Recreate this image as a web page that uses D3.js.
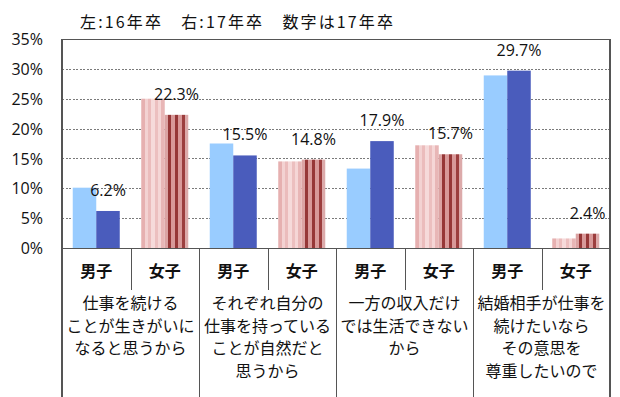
<!DOCTYPE html>
<html lang="ja">
<head>
<meta charset="UTF-8">
<title>Bar chart</title>
<script src="https://d3js.org/d3.v7.min.js"></script>
<style>
  html, body { margin: 0; padding: 0; background: #fff; }
  text { fill: #111; }
  .num { font-family: "Open Sans", "Liberation Sans", sans-serif; font-size: 16px; }
  .jp { font-family: "Noto Sans CJK JP", sans-serif; font-size: 16px; }
  .grid line { stroke: #7a7a7a; stroke-dasharray: 2,1.5; shape-rendering: crispEdges; }
  .frame { stroke: #555; stroke-width: 1.3; fill: none; shape-rendering: crispEdges; }
</style>
</head>
<body>
<script>
// data
var groups = [
  ["仕事を続ける", "ことが生きがいに", "なると思うから"],
  ["それぞれ自分の", "仕事を持っている", "ことが自然だと", "思うから"],
  ["一方の収入だけ", "では生活できない", "から"],
  ["結婚相手が仕事を", "続けたいなら", "その意思を", "尊重したいので"]
];
var sexes = ["男子", "女子"];
var years = ["16年卒", "17年卒"];
var v16 = [10.1, 25.0, 17.5, 14.5, 13.3, 17.2, 28.9, 1.6];
var v17 = [6.2, 22.3, 15.5, 14.8, 17.9, 15.7, 29.7, 2.4];
var yTicks = [0, 5, 10, 15, 20, 25, 30, 35];
var title = "左:16年卒　右:17年卒　数字は17年卒";

var W = 620, H = 397;
var plotL = 62, plotR = 610, plotT = 39, plotB = 248;

var cats = [];
groups.forEach(function(g, gi) {
  sexes.forEach(function(s, si) { cats.push({ key: gi + "-" + si, group: gi, sex: s, i: gi * 2 + si }); });
});

var svg = d3.select("body").append("svg").attr("width", W).attr("height", H);

var defs = svg.append("defs");
// striped fills for 女子 bars
function stripes(id, cols) {
  var g = defs.append("linearGradient").attr("id", id).attr("x1", 0).attr("x2", 1).attr("y1", 0).attr("y2", 0);
  var n = cols.length;
  cols.forEach(function(c, i) {
    g.append("stop").attr("offset", i / n).attr("stop-color", c);
    g.append("stop").attr("offset", (i + 1) / n).attr("stop-color", c);
  });
}
stripes("pinkLight", ["#e6b0b0", "#f3d2d2", "#ebbcbc", "#f6dada", "#ecbfbf", "#f5d6d6", "#e8b6b6"]);
stripes("pinkDark", ["#dba3a3", "#963737", "#d89999", "#963737", "#d89999", "#9c3e3e", "#dcaaaa"]);

var y = d3.scaleLinear().domain([0, 35]).range([plotB, plotT]);
var x = d3.scaleBand().domain(cats.map(function(d) { return d.key; })).range([plotL, plotR]);
var xi = d3.scaleBand().domain(years).range([0, x.bandwidth()]).paddingOuter(0.457);

// gridlines
svg.append("g").attr("class", "grid")
  .selectAll("line").data(yTicks.filter(function(t) { return t > 0 && t < 35; }))
  .join("line")
  .attr("x1", plotL).attr("x2", plotR)
  .attr("y1", function(d) { return Math.round(y(d)) + 0.5; })
  .attr("y2", function(d) { return Math.round(y(d)) + 0.5; });

// y axis labels
var yAxis = d3.axisLeft(y).tickValues(yTicks).tickSize(0).tickPadding(0)
  .tickFormat(function(d) { return d + "%"; });
var ya = svg.append("g").attr("transform", "translate(43,0)").call(yAxis);
ya.select(".domain").remove();
ya.selectAll("text").attr("class", "num").attr("fill", "#111").attr("dy", "0.35em");

// bars
function fillFor(c, yr) {
  if (c.sex === "男子") return yr === 0 ? "#99ccff" : "#4a5cbc";
  return yr === 0 ? "url(#pinkLight)" : "url(#pinkDark)";
}
var barG = svg.append("g");
cats.forEach(function(c) {
  [v16[c.i], v17[c.i]].forEach(function(v, yi) {
    barG.append("rect")
      .attr("x", x(c.key) + xi(years[yi]))
      .attr("width", xi.bandwidth())
      .attr("y", y(v))
      .attr("height", plotB - y(v))
      .attr("fill", fillFor(c, yi));
  });
  svg.append("text").attr("class", "num")
    .attr("x", x(c.key) + xi(years[1]) + xi.bandwidth() / 2)
    .attr("y", y(v17[c.i]) - 15)
    .attr("text-anchor", "middle")
    .text(v17[c.i].toFixed(1) + "%");
});

// frame and dividers
svg.append("line").attr("class", "frame").attr("x1", plotL).attr("x2", plotR).attr("y1", plotT + 0.5).attr("y2", plotT + 0.5);
svg.append("line").attr("class", "frame").attr("x1", plotL).attr("x2", plotL).attr("y1", plotT).attr("y2", H);
svg.append("line").attr("class", "frame").attr("x1", plotR).attr("x2", plotR).attr("y1", plotT).attr("y2", H);
svg.append("line").attr("class", "frame").attr("stroke", "#111").attr("x1", plotL).attr("x2", plotR).attr("y1", plotB + 0.5).attr("y2", plotB + 0.5);
cats.forEach(function(c) {
  if (c.i === 0) return;
  var xx = Math.round(x(c.key)) + 0.5;
  svg.append("line").attr("class", "frame")
    .attr("x1", xx).attr("x2", xx).attr("y1", plotB)
    .attr("y2", c.sex === "男子" ? H : 290);
});

// category labels
svg.append("g").selectAll("text").data(cats).join("text")
  .attr("class", "jp")
  .attr("font-weight", 600)
  .attr("x", function(d) { return x(d.key) + x.bandwidth() / 2; })
  .attr("y", 277)
  .attr("text-anchor", "middle")
  .text(function(d) { return d.sex; });

groups.forEach(function(lines, gi) {
  var cx = x(gi + "-0") + x.bandwidth();
  lines.forEach(function(t, li) {
    svg.append("text").attr("class", "jp")
      .attr("x", cx).attr("y", 309 + li * 22.7)
      .attr("text-anchor", "middle")
      .attr("font-size", 16.3)
      .text(t);
  });
});

// title
svg.append("text").attr("class", "jp")
  .attr("x", 80).attr("y", 28)
  .attr("font-size", 17)
  .attr("textLength", 313)
  .attr("lengthAdjust", "spacing")
  .text(title);
</script>
</body>
</html>
